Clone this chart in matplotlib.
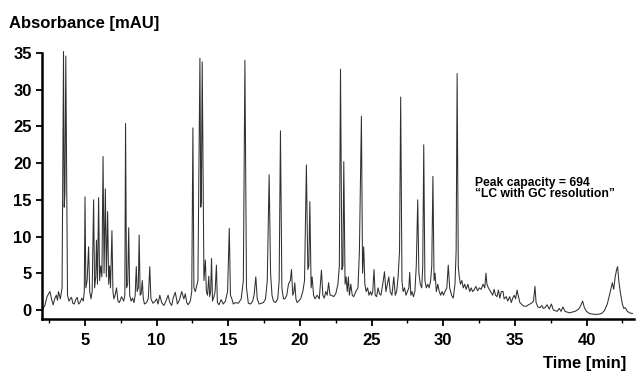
import numpy as np
import matplotlib
matplotlib.use("Agg")
import matplotlib.pyplot as plt
from matplotlib.ticker import MultipleLocator

plt.rcParams['font.family'] = ['Liberation Sans', 'DejaVu Sans']
plt.rcParams['font.weight'] = 'bold'

# chromatogram trace (time in min, absorbance in mAU)
time = [
    2.0, 2.2, 2.35, 2.55, 2.7, 2.78, 2.9, 3.0, 3.08, 3.15, 3.28, 3.4, 3.5, 3.55, 3.6, 3.66,
    3.78, 3.88, 4.0, 4.06, 4.15, 4.25, 4.35, 4.46, 4.55, 4.65, 4.78, 4.88, 4.95, 5.0,
    5.06, 5.15, 5.25, 5.33, 5.42, 5.5, 5.6, 5.67, 5.75, 5.8, 5.87, 5.95, 6.02, 6.1,
    6.18, 6.26, 6.33, 6.42, 6.49, 6.58, 6.65, 6.72, 6.78, 6.88, 6.95, 7.02, 7.1, 7.2,
    7.3, 7.4, 7.55, 7.7, 7.78, 7.83, 7.9, 7.98, 8.05, 8.12, 8.22, 8.32, 8.42, 8.5,
    8.58, 8.64, 8.72, 8.78, 8.85, 8.92, 9.0, 9.07, 9.15, 9.3, 9.42, 9.52, 9.6, 9.75,
    9.9, 10.0, 10.1, 10.22, 10.35, 10.5, 10.65, 10.8, 10.92, 11.05, 11.15, 11.3, 11.45,
    11.6, 11.75, 11.9, 12.0, 12.1, 12.2, 12.35, 12.45, 12.53, 12.6, 12.7, 12.88, 13.02,
    13.08, 13.12, 13.18, 13.3, 13.4, 13.47, 13.55, 13.64, 13.7, 13.77, 13.83, 13.9,
    14.0, 14.08, 14.17, 14.24, 14.35, 14.5, 14.65, 14.8, 14.95, 15.07, 15.15, 15.25,
    15.35, 15.5, 15.7, 15.9, 16.05, 16.16, 16.27, 16.4, 16.55, 16.7, 16.8, 16.92, 17.02,
    17.15, 17.3, 17.45, 17.6, 17.72, 17.85, 17.95, 18.05, 18.15, 18.3, 18.45, 18.55,
    18.64, 18.74, 18.85, 18.95, 19.08, 19.2, 19.33, 19.41, 19.5, 19.58, 19.64, 19.72,
    19.8, 19.9, 20.05, 20.2, 20.32, 20.45, 20.55, 20.62, 20.69, 20.78, 20.85, 20.95,
    21.05, 21.2, 21.35, 21.5, 21.6, 21.7, 21.8, 21.9, 22.0, 22.1, 22.2, 22.35, 22.5,
    22.65, 22.75, 22.83, 22.93, 23.0, 23.06, 23.15, 23.22, 23.3, 23.38, 23.45, 23.55,
    23.65, 23.75, 23.9, 24.05, 24.15, 24.29, 24.37, 24.45, 24.53, 24.62, 24.72, 24.82,
    24.92, 25.0, 25.08, 25.17, 25.25, 25.35, 25.45, 25.55, 25.65, 25.78, 25.9, 26.0,
    26.1, 26.2, 26.3, 26.42, 26.55, 26.65, 26.75, 26.85, 26.95, 27.03, 27.12, 27.2,
    27.3, 27.4, 27.5, 27.6, 27.66, 27.74, 27.82, 27.92, 28.02, 28.12, 28.22, 28.3,
    28.4, 28.5, 28.57, 28.64, 28.72, 28.82, 28.92, 29.02, 29.12, 29.2, 29.28, 29.36,
    29.43, 29.52, 29.62, 29.72, 29.82, 29.92, 30.02, 30.12, 30.25, 30.35, 30.45, 30.58,
    30.7, 30.82, 30.9, 30.97, 31.05, 31.12, 31.2, 31.3, 31.4, 31.5, 31.6, 31.72, 31.85,
    31.95, 32.05, 32.15, 32.28, 32.4, 32.52, 32.65, 32.78, 32.9, 32.98, 33.05, 33.15,
    33.3, 33.45, 33.55, 33.65, 33.75, 33.85, 33.95, 34.05, 34.17, 34.25, 34.4, 34.5,
    34.64, 34.75, 34.85, 34.95, 35.05, 35.15, 35.25, 35.35, 35.5, 35.65, 35.8, 35.95,
    36.15, 36.3, 36.4, 36.48, 36.6, 36.75, 36.88, 36.98, 37.1, 37.25, 37.4, 37.55,
    37.68, 37.8, 37.95, 38.1, 38.22, 38.35, 38.5, 38.65, 38.8, 39.0, 39.2, 39.45, 39.6,
    39.73, 39.85, 40.0, 40.2, 40.5, 40.8, 41.05, 41.25, 41.45, 41.6, 41.72, 41.8, 41.9,
    42.0, 42.1, 42.17, 42.25, 42.35, 42.5, 42.6, 42.7, 42.85, 43.0, 43.2,
]
absorbance = [
    0.0, 0.6, 1.8, 2.5, 1.2, 0.7, 1.6, 2.0, 1.3, 2.5, 1.5, 3.0, 35.2, 14.0, 16.0, 34.6,
    2.0, 1.2, 1.6, 1.7, 0.9, 0.8, 1.4, 1.7, 0.8, 1.0, 1.6, 1.2, 2.5, 15.4,
    3.0, 4.0, 8.6, 2.5, 1.5, 2.5, 15.0, 3.0, 4.5, 9.5, 3.5, 15.3, 4.0, 6.0,
    4.5, 20.9, 5.0, 16.5, 4.5, 13.4, 3.5, 6.0, 3.0, 10.8, 2.5, 1.5, 2.0, 3.0,
    1.2, 1.0, 1.8, 1.2, 2.0, 25.4, 3.0, 3.5, 11.2, 2.0, 1.2, 1.6, 1.0, 2.0,
    5.9, 2.5, 3.0, 10.2, 2.0, 2.2, 4.0, 1.5, 0.8, 1.0, 1.6, 5.9, 1.5, 0.9,
    1.2, 1.5, 0.8, 2.0, 1.0, 0.6, 1.2, 2.0, 1.0, 0.6, 1.6, 2.4, 0.8,
    1.4, 2.5, 1.5, 2.2, 1.0, 0.7, 1.2, 2.5, 24.8, 3.0, 2.5, 4.0, 34.3,
    14.0, 15.0, 33.8, 4.0, 6.8, 2.5, 2.0, 4.6, 1.8, 2.5, 7.0, 1.2,
    1.8, 2.5, 6.1, 1.0, 0.7, 1.4, 0.8, 1.2, 2.5, 11.1, 2.0, 1.5,
    0.8, 1.0, 0.9, 1.5, 4.0, 34.0, 3.0, 0.9, 0.8, 1.2, 2.0, 4.5, 1.5,
    0.8, 0.9, 1.0, 1.5, 4.0, 18.4, 5.0, 2.0, 1.2, 1.0, 1.5, 4.0,
    24.4, 3.0, 1.5, 1.5, 2.0, 3.5, 4.0, 5.5, 2.0, 2.5, 3.7, 1.5,
    1.0, 1.2, 1.5, 2.5, 4.0, 19.75, 5.5, 6.0, 14.75, 3.0, 4.5, 2.0,
    1.5, 2.0, 1.5, 5.4, 2.0, 1.6, 2.5, 2.0, 3.7, 2.0, 2.0, 1.8, 2.2,
    3.5, 6.0, 32.8, 5.5, 6.0, 20.2, 3.5, 4.5, 2.5, 4.5, 2.0, 3.5,
    2.0, 1.8, 2.5, 3.0, 8.0, 26.4, 5.0, 8.6, 3.5, 2.5, 3.0, 2.0,
    2.5, 2.0, 2.5, 5.5, 2.0, 1.8, 3.0, 2.2, 2.0, 3.5, 5.2, 2.5,
    3.5, 4.5, 2.5, 2.0, 4.5, 2.0, 2.5, 4.5, 8.0, 29.0, 4.0, 2.5,
    3.0, 2.0, 2.5, 3.0, 5.1, 2.0, 2.5, 1.8, 2.5, 6.0, 15.0, 5.0,
    3.5, 3.0, 6.0, 22.5, 4.0, 3.0, 3.5, 3.0, 4.0, 6.0, 18.2, 4.0,
    5.0, 2.5, 3.5, 2.5, 2.0, 2.5, 2.0, 2.5, 3.0, 6.1, 3.0, 2.0,
    1.6, 3.5, 8.0, 32.2, 5.9, 4.5, 3.5, 4.0, 3.0, 3.5, 2.8, 3.5, 2.5,
    3.0, 2.5, 2.7, 3.2, 2.6, 3.0, 2.8, 3.5, 3.0, 5.0, 3.5, 3.0,
    2.5, 2.0, 2.8, 2.0, 1.8, 2.7, 1.6, 2.5, 2.5, 1.5, 1.8, 1.2,
    1.8, 1.0, 1.6, 2.0, 1.5, 2.7, 1.8, 1.0, 0.7, 0.5, 0.5, 0.7,
    0.9, 1.2, 3.2, 1.0, 0.4, 0.3, 0.6, 0.2, 0.3, 0.7, 0.1, 0.8,
    0.0, -0.1, -0.2, 0.2, -0.2, 0.4, -0.2, -0.3, -0.4, -0.3, -0.2, 0.1, 0.6,
    1.2, 0.3, -0.2, -0.5, -0.6, -0.6, -0.5, -0.1, 0.8, 2.0, 3.0, 3.7, 2.8,
    4.5, 5.5, 5.9, 4.0, 2.5, 0.8, 0.2, 0.3, -0.2, -0.4, -0.5,
]

y_ticks = [0, 5, 10, 15, 20, 25, 30, 35]
x_ticks = [5, 10, 15, 20, 25, 30, 35, 40]
y_title = 'Absorbance [mAU]'
x_title = 'Time [min]'
note_1 = 'Peak capacity = 694'
note_2 = '\u201cLC with GC resolution\u201d'

fig = plt.figure(figsize=(6.37, 3.71), dpi=100)
ax = fig.add_axes([0.0655, 0.139, 0.9295, 0.724])

ax.plot(time, absorbance, color='#303030', lw=0.75)

ax.set_xlim(1.98, 43.3)
ax.set_ylim(-1.3, 35.3)
ax.set_xticks(x_ticks)
ax.set_yticks(y_ticks)
ax.xaxis.set_minor_locator(MultipleLocator(2.5))

for side in ('top', 'right'):
    ax.spines[side].set_visible(False)
for side in ('left', 'bottom'):
    ax.spines[side].set_linewidth(1.8)
ax.spines['left'].set_bounds(-1.3, 35)

ax.tick_params(axis='y', direction='out', length=4.2, width=1.3, pad=3, labelsize=12)
ax.tick_params(axis='x', which='major', direction='out', length=5, width=1.3, pad=5, labelsize=12)
ax.tick_params(axis='x', which='minor', direction='out', length=3, width=1.0)

fig.text(9 / 637, 1 - 28 / 371, y_title, fontsize=12, fontweight='bold', va='baseline')
fig.text(543 / 637, 1 - 368 / 371, x_title, fontsize=12, fontweight='bold', va='baseline')

ax.text(32.2, 16.9, note_1, fontsize=8.7, fontweight='bold', va='baseline')
ax.text(32.2, 15.4, note_2, fontsize=8.7, fontweight='bold', va='baseline')

fig.savefig('out.png', dpi=100)
